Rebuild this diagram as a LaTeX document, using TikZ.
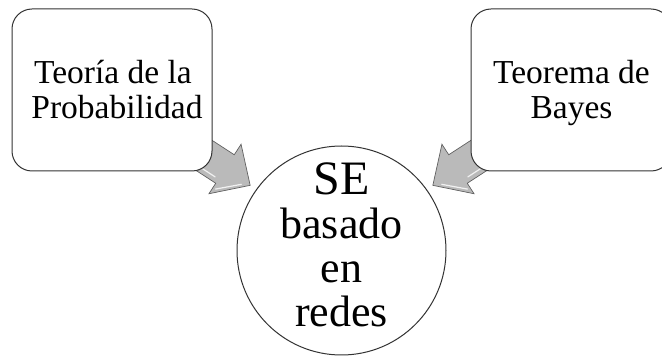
\documentclass[tikz,border=0pt]{standalone}
\usepackage{fontspec}
\setmainfont{Liberation Serif}
\begin{document}
\begin{tikzpicture}[x=1pt,y=-1pt,
  box/.style={draw=black!80, line width=1pt, rounded corners=20pt, fill=white, inner sep=0pt},
  blockarrow/.style={fill=black!27, draw=black!62, line width=0.7pt, line join=miter},
  shine/.style={draw=white, line width=1.2pt, line cap=round, opacity=0.8},
  boxtext/.style={align=center, font=\fontsize{33.5}{35}\selectfont, inner sep=0pt},
  circtext/.style={align=center, font=\fontsize{44}{44}\selectfont, inner sep=0pt},
  ]
\useasboundingbox (0,0) rectangle (662,358);
\clip (0,0) rectangle (662,358);
% anchor points of the block arrows
\coordinate (la) at (225,169);
\coordinate (ra) at (458,169);
\begin{scope}[shift={(la)}, rotate=-33]
  \draw[blockarrow]
    (-45,-17) -- (0,-17) -- (0,-29.5) -- (30,0) -- (0,29.5) -- (0,17) -- (-45,17) -- cycle;
  \draw[shine] (3,22) -- (22,4);
  \draw[shine] (-20,12) -- (-4,12);
\end{scope}
\begin{scope}[shift={(ra)}, rotate=-147]
  \draw[blockarrow]
    (-45,-17) -- (0,-17) -- (0,-29.5) -- (30,0) -- (0,29.5) -- (0,17) -- (-45,17) -- cycle;
  \draw[shine] (3,-22) -- (22,-4);
  \draw[shine] (-20,-12) -- (-4,-12);
\end{scope}
% boxes
\node (tp) [box, minimum width=200pt, minimum height=162pt] at (112,90) {};
\node (tb) [box, minimum width=200pt, minimum height=162pt] at (571,90) {};
\node (tpt) [boxtext] at (117,89.3) {Teoría de la\kern8pt\\Probabilidad};
\node (tbt) [boxtext] at (571.5,92.9) {Teorema de\\Bayes};
% circle
\node (se) [circle, draw=black!80, line width=1pt, minimum size=209pt, inner sep=0pt, fill=white] at (341.5,250.5) {};
\node (set) [circtext] at (341.5,244.8) {{\fontsize{48}{44}\selectfont SE}\\basado\\en\\redes};
\end{tikzpicture}
\end{document}
